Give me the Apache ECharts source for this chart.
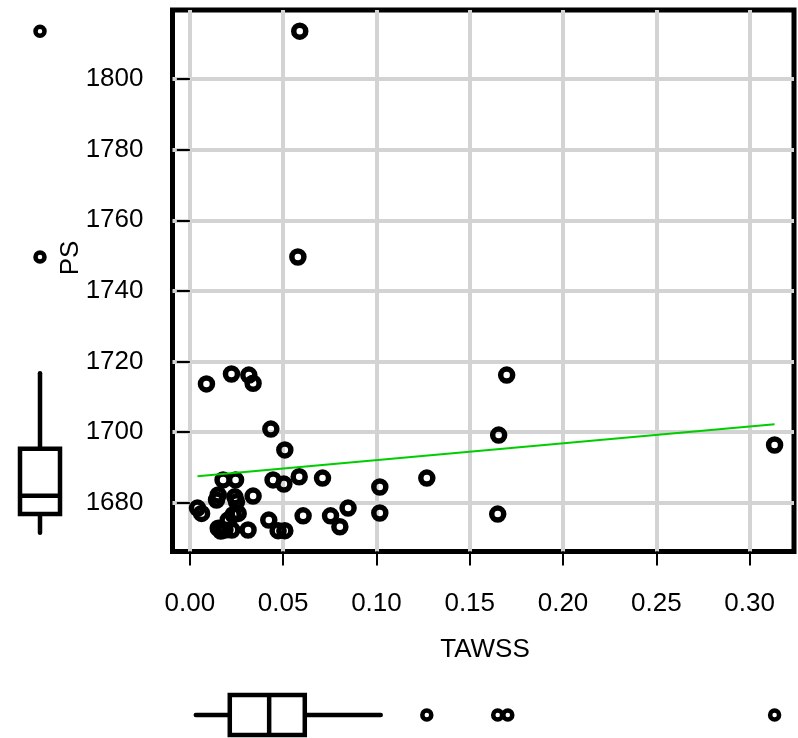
<!DOCTYPE html>
<html>
<head>
<meta charset="utf-8">
<script src="https://cdn.jsdelivr.net/npm/echarts@6/dist/echarts.min.js"></script>
<style>
  html, body { margin: 0; padding: 0; background: #fff; }
  #chart { width: 798px; height: 738px; }
</style>
</head>
<body>
<div id="chart"></div>
<script>
// Observations: wall shear stress (TAWSS) against PS
const tawss = [
  0.0589, 0.0579, 0.1698, 0.1655, 0.1650, 0.3134, 0.1270, 0.1018, 0.1018,
  0.0089, 0.0223, 0.0316, 0.0339, 0.0434, 0.0509, 0.0178, 0.0245, 0.0446,
  0.0504, 0.0586, 0.0711, 0.0041, 0.0063, 0.0152, 0.0241, 0.0339, 0.0232,
  0.0205, 0.0152, 0.0188, 0.0225, 0.0312, 0.0423, 0.0473, 0.0509, 0.0607,
  0.0754, 0.0804, 0.0848, 0.0143, 0.0250, 0.0259, 0.0166
];
const ps = [
  1813.6, 1749.6, 1716.1, 1699.1, 1676.7, 1696.3, 1686.9, 1684.4, 1677.0,
  1713.6, 1716.4, 1716.1, 1713.8, 1700.8, 1694.9, 1686.4, 1686.4, 1686.4,
  1685.2, 1687.3, 1686.9, 1678.4, 1676.9, 1682.1, 1681.6, 1681.8, 1676.5,
  1675.0, 1672.7, 1672.2, 1672.2, 1672.2, 1675.0, 1672.0, 1672.0, 1676.2,
  1676.2, 1673.1, 1678.4, 1680.7, 1680.2, 1676.9, 1671.9
];

// Axis ticks
const xTicks = [0, 0.05, 0.10, 0.15, 0.20, 0.25, 0.30];
const yTicks = [1680, 1700, 1720, 1740, 1760, 1780, 1800];
const xRange = [-0.0093, 0.3238];
const yRange = [1666.1, 1819.6];

// Least-squares fit, drawn between the smallest and largest TAWSS
const fitX = [0.0041, 0.3134];
const fitY = [1687.4, 1702.2];

// Marginal boxplots: [lower whisker, Q1, median, Q3, upper whisker]
const psBox = [1671.4, 1676.7, 1681.9, 1695.2, 1716.6];
const psOutliers = [1749.6, 1813.6];
const tawssBox = [0.0032, 0.0214, 0.0425, 0.0616, 0.1023];
const tawssOutliers = [0.1270, 0.1650, 0.1704, 0.3134];

const FONT = '"Liberation Sans", Arial, Helvetica, sans-serif';
const points = tawss.map((x, i) => [x, ps[i]]);
const fitData = fitX.map((x, i) => [x, fitY[i]]);

const ringStyle = { color: 'rgba(0,0,0,0)', borderColor: '#000', borderWidth: 5.5, opacity: 1 };
const smallRing = { color: 'rgba(0,0,0,0)', borderColor: '#000', borderWidth: 4.5, opacity: 1 };

function boxRenderer(vertical) {
  return function (params, api) {
    const pos = api.value(0);
    const stats = [1, 2, 3, 4, 5].map(d => api.value(d));
    const pt = v => vertical ? api.coord([pos, v]) : api.coord([v, pos]);
    const p = stats.map(pt);
    const half = 20;
    const line = { stroke: '#000', lineWidth: 4.5, lineCap: 'round' };
    const flat = { stroke: '#000', lineWidth: 4.5, lineCap: 'butt', fill: '#fff' };
    let children;
    if (vertical) {
      const cx = p[0][0];
      children = [
        { type: 'line', shape: { x1: cx, y1: p[0][1], x2: cx, y2: p[1][1] }, style: line },
        { type: 'line', shape: { x1: cx, y1: p[3][1], x2: cx, y2: p[4][1] }, style: line },
        { type: 'rect', shape: { x: cx - half, y: p[3][1], width: 2 * half, height: p[1][1] - p[3][1] }, style: flat },
        { type: 'line', shape: { x1: cx - half, y1: p[2][1], x2: cx + half, y2: p[2][1] }, style: flat }
      ];
    } else {
      const cy = p[0][1];
      children = [
        { type: 'line', shape: { x1: p[0][0], y1: cy, x2: p[1][0], y2: cy }, style: line },
        { type: 'line', shape: { x1: p[3][0], y1: cy, x2: p[4][0], y2: cy }, style: line },
        { type: 'rect', shape: { x: p[1][0], y: cy - half, width: p[3][0] - p[1][0], height: 2 * half }, style: flat },
        { type: 'line', shape: { x1: p[2][0], y1: cy - half, x2: p[2][0], y2: cy + half }, style: flat }
      ];
    }
    return { type: 'group', children };
  };
}

const chart = echarts.init(document.getElementById('chart'), null, { renderer: 'canvas' });

chart.setOption({
  animation: false,
  backgroundColor: '#fff',
  textStyle: { fontFamily: FONT },
  grid: [
    { left: 172.5, right: 4, top: 10, bottom: 186.5, show: true, borderColor: '#000', borderWidth: 5, backgroundColor: 'rgba(0,0,0,0)' },
    { left: 20, width: 40, top: 10, bottom: 186.5 },
    { left: 172.5, right: 4, top: 695, height: 40 }
  ],
  xAxis: [
    {
      type: 'value', gridIndex: 0, min: xRange[0], max: xRange[1],
      axisLine: { show: false },
      axisTick: { show: true, customValues: xTicks, length: 14, lineStyle: { color: '#000', width: 2 } },
      axisLabel: { customValues: xTicks, formatter: v => v.toFixed(2), fontSize: 26, color: '#000', margin: 39, fontFamily: FONT },
      splitLine: { show: true, lineStyle: { color: '#d3d3d3', width: 4 } }
    },
    { type: 'value', gridIndex: 1, min: 0, max: 1, show: false },
    { type: 'value', gridIndex: 2, min: xRange[0], max: xRange[1], show: false }
  ],
  yAxis: [
    {
      type: 'value', gridIndex: 0, min: yRange[0], max: yRange[1],
      axisLine: { show: false },
      axisTick: { show: true, customValues: yTicks, length: 13, lineStyle: { color: '#000', width: 2 } },
      axisLabel: { customValues: yTicks, formatter: v => String(v), fontSize: 26, color: '#000', margin: 29, fontFamily: FONT },
      splitLine: { show: true, lineStyle: { color: '#d3d3d3', width: 4 } }
    },
    { type: 'value', gridIndex: 1, min: yRange[0], max: yRange[1], show: false },
    { type: 'value', gridIndex: 2, min: 0, max: 1, show: false }
  ],
  graphic: [
    { type: 'text', x: 485, y: 650, style: { text: 'TAWSS', font: '26px ' + FONT, fill: '#000', align: 'center', verticalAlign: 'middle' } },
    { type: 'text', x: 71, y: 258, rotation: Math.PI / 2, style: { text: 'PS', font: '26px ' + FONT, fill: '#000', align: 'center', verticalAlign: 'middle' } }
  ],
  series: [
    {
      type: 'scatter', xAxisIndex: 0, yAxisIndex: 0, data: points,
      symbol: 'circle', symbolSize: 12, itemStyle: ringStyle, z: 3
    },
    {
      type: 'line', xAxisIndex: 0, yAxisIndex: 0, data: fitData,
      symbol: 'none', lineStyle: { color: '#00cd00', width: 2 }, z: 4
    },
    {
      type: 'custom', xAxisIndex: 1, yAxisIndex: 1,
      data: [[0.5].concat(psBox)], renderItem: boxRenderer(true)
    },
    {
      type: 'scatter', xAxisIndex: 1, yAxisIndex: 1,
      data: psOutliers.map(v => [0.5, v]), symbol: 'circle', symbolSize: 9, itemStyle: smallRing
    },
    {
      type: 'custom', xAxisIndex: 2, yAxisIndex: 2,
      data: [[0.5].concat(tawssBox)], renderItem: boxRenderer(false)
    },
    {
      type: 'scatter', xAxisIndex: 2, yAxisIndex: 2,
      data: tawssOutliers.map(v => [v, 0.5]), symbol: 'circle', symbolSize: 9, itemStyle: smallRing
    }
  ]
});
</script>
</body>
</html>
